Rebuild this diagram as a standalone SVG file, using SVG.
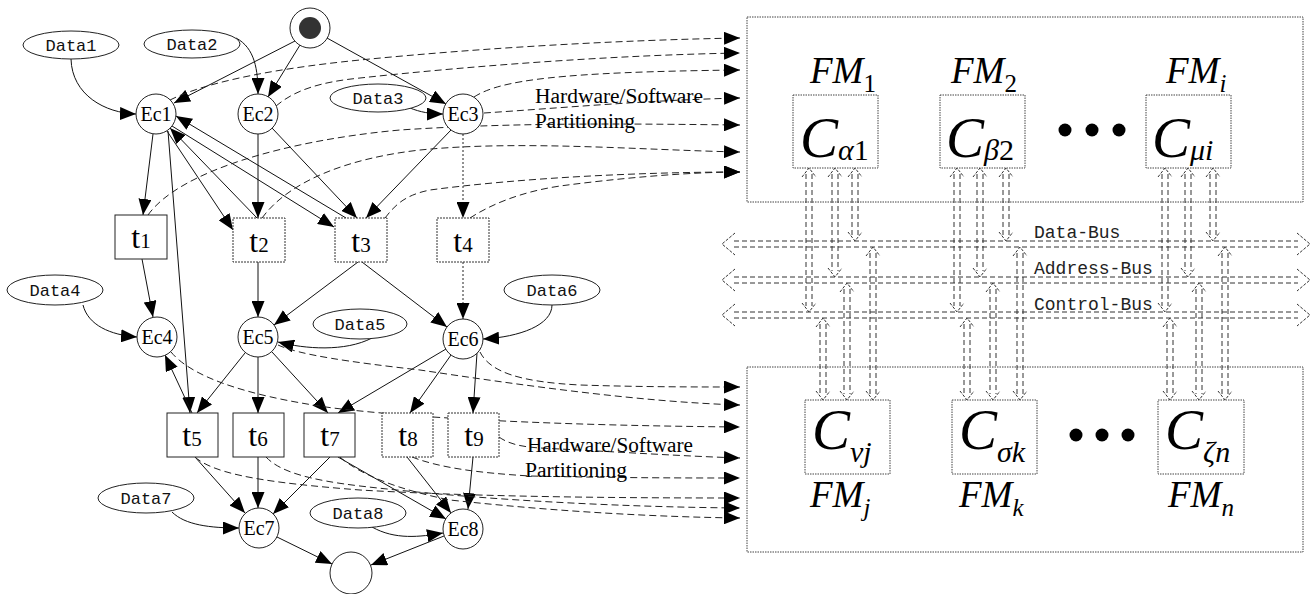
<svg xmlns="http://www.w3.org/2000/svg" width="1313" height="594" viewBox="0 0 1313 594">
<defs>
<marker id="ah" markerUnits="userSpaceOnUse" markerWidth="16" markerHeight="13" viewBox="0 0 16 13" refX="16" refY="6.5" orient="auto"><path d="M0,0 L16,6.5 L0,13 z" fill="#000"/></marker>
</defs>
<style>
.e{fill:none;stroke:#111;stroke-width:1;marker-end:url(#ah)}
.d{fill:none;stroke:#222;stroke-width:1;stroke-dasharray:7 4;marker-end:url(#ah)}
.dt{fill:none;stroke:#222;stroke-width:1;stroke-dasharray:2 2;marker-end:url(#ah)}
.n{fill:#fff;stroke:#222;stroke-width:1}
.nd{fill:#fff;stroke:#333;stroke-width:1;stroke-dasharray:2 1}
.ec{font-family:"Liberation Serif",serif;font-size:20px;text-anchor:middle;fill:#000}
.tl{font-family:"Liberation Serif",serif;text-anchor:middle;fill:#000}
.mono{font-family:"Liberation Mono",monospace;font-size:17px;text-anchor:middle;fill:#111}
.el{font-family:"Liberation Serif",serif;font-size:20px;fill:#000}
.bus{fill:none;stroke:#333;stroke-width:1;stroke-dasharray:5 3}
.chev{fill:none;stroke:#333;stroke-width:1;stroke-dasharray:3 1.5}
.box{fill:none;stroke:#444;stroke-width:1;stroke-dasharray:1.5 1}
.it{font-family:"Liberation Serif",serif;font-style:italic;fill:#000}
.up{font-style:normal}
.bl{font-family:"Liberation Mono",monospace;font-size:18px;fill:#222}
</style>
<rect width="1313" height="594" fill="#fff"/>

<g id="connectors">
<path class="e" d="M295,41 L174,103"/>
<path class="e" d="M300,45 L268,97"/>
<path class="e" d="M327,38 L446,104"/>
<path class="e" d="M71,59 C72,95 105,113 136,114"/>
<path class="e" d="M236,38 C255,48 258,70 258,94"/>
<path class="e" d="M410,108 C420,112 430,114 443,114"/>
<path class="e" d="M153,134 L143,215"/>
<path class="e" d="M167,131 L233,230"/>
<path class="e" d="M257,218 L170,128"/>
<path class="e" d="M172,126 L334,227"/>
<path class="e" d="M346,218 L176,116"/>
<path class="e" d="M168,131 L190,413"/>
<path class="e" d="M258,134 L258,218"/>
<path class="e" d="M272,128 L357,218"/>
<path class="e" d="M451,130 L366,218"/>
<path class="dt" d="M463,134 L463,218"/>
<path class="e" d="M142,259 L153,317"/>
<path class="e" d="M83,305 C88,325 110,335 137,337"/>
<path class="e" d="M258,262 L258,317"/>
<path class="e" d="M358,262 L274,325"/>
<path class="e" d="M362,262 L447,327"/>
<path class="dt" d="M463,262 L463,319"/>
<path class="e" d="M552,305 C552,325 520,337 483,339"/>
<path class="e" d="M372,338 C345,352 305,349 278,342"/>
<path class="e" d="M245,353 L197,413"/>
<path class="e" d="M258,357 L258,413"/>
<path class="e" d="M272,352 L328,413"/>
<path class="e" d="M446,349 L338,413"/>
<path class="e" d="M451,355 L410,413"/>
<path class="e" d="M477,353 L473,413"/>
<path class="e" d="M192,413 L165,355"/>
<path class="e" d="M172,512 C185,525 210,528 239,528"/>
<path class="e" d="M195,457 L245,513"/>
<path class="e" d="M258,457 L258,508"/>
<path class="e" d="M330,457 L273,514"/>
<path class="e" d="M338,457 L446,519"/>
<path class="e" d="M407,457 L451,513"/>
<path class="e" d="M473,457 L468,509"/>
<path class="e" d="M372,527 C395,540 420,537 443,533"/>
<path class="e" d="M277,537 L332,564"/>
<path class="e" d="M444,536 L371,565"/>
<path class="d" d="M170,100 C200,85 260,70 360,60 C480,48 620,40 740,38"/>
<path class="d" d="M276,106 C295,90 320,82 360,78 C480,65 620,55 740,53"/>
<path class="d" d="M474,97 C500,80 560,72 740,70"/>
<path class="d" d="M484,113 C560,108 650,100 740,98"/>
<path class="d" d="M148,215 C180,170 290,140 400,130 C520,122 640,124 740,125"/>
<path class="d" d="M262,218 C290,180 350,158 420,150 C520,140 640,150 740,152"/>
<path class="d" d="M385,218 C395,205 405,195 430,190 C520,178 640,172 740,172"/>
<path class="d" d="M470,218 C490,205 520,192 560,186 C620,178 690,172 740,172"/>
<path class="d" d="M480,352 C490,372 520,382 580,385 C640,387 700,387 740,387"/>
<path class="d" d="M278,345 C300,355 350,362 420,370 C520,385 640,402 740,405"/>
<path class="d" d="M171,352 C190,375 240,395 333,408 C450,422 620,426 740,427"/>
<path class="d" d="M499,437 C510,445 525,447 540,448 C620,452 680,456 740,458"/>
<path class="d" d="M412,457 C440,468 480,473 530,476 C620,478 690,478 740,478"/>
<path class="d" d="M195,457 C215,475 270,483 360,490 C480,497 620,498 740,498"/>
<path class="d" d="M266,457 C280,472 310,480 360,486 C480,500 620,507 740,508"/>
<path class="d" d="M340,457 C360,475 400,490 450,500 C560,512 660,517 740,518"/>
</g>

<g id="edge-labels">
<text class="el" x="535" y="103" textLength="168" lengthAdjust="spacingAndGlyphs">Hardware/Software</text>
<text class="el" x="535" y="128" textLength="100" lengthAdjust="spacingAndGlyphs">Partitioning</text>
<text class="el" x="527" y="452" textLength="166" lengthAdjust="spacingAndGlyphs">Hardware/Software</text>
<text class="el" x="525" y="477" textLength="102" lengthAdjust="spacingAndGlyphs">Partitioning</text>
</g>

<g id="start"><circle class="n" cx="310" cy="28" r="20"/><circle cx="310" cy="28" r="11" fill="#333"/></g>
<g id="end"><circle class="n" cx="351" cy="573" r="21"/></g>

<g id="Data1"><ellipse class="n" cx="71" cy="45" rx="48" ry="14"/><text class="mono" x="71" y="51">Data1</text></g>
<g id="Data2"><ellipse class="n" cx="192" cy="44" rx="48" ry="14"/><text class="mono" x="192" y="50">Data2</text></g>
<g id="Data3"><ellipse class="n" cx="378" cy="98" rx="48" ry="14"/><text class="mono" x="378" y="104">Data3</text></g>
<g id="Data4"><ellipse class="n" cx="55" cy="290" rx="48" ry="15"/><text class="mono" x="55" y="296">Data4</text></g>
<g id="Data5"><ellipse class="n" cx="360" cy="324" rx="47" ry="15"/><text class="mono" x="360" y="330">Data5</text></g>
<g id="Data6"><ellipse class="n" cx="552" cy="290" rx="48" ry="15"/><text class="mono" x="552" y="296">Data6</text></g>
<g id="Data7"><ellipse class="n" cx="146" cy="498" rx="48" ry="15"/><text class="mono" x="146" y="504">Data7</text></g>
<g id="Data8"><ellipse class="n" cx="358" cy="513" rx="48" ry="15"/><text class="mono" x="358" y="519">Data8</text></g>

<g id="Ec1"><circle class="n" cx="156" cy="114" r="20"/><text class="ec" x="156" y="121">Ec1</text></g>
<g id="Ec2"><circle class="n" cx="258" cy="114" r="20"/><text class="ec" x="258" y="121">Ec2</text></g>
<g id="Ec3"><circle class="n" cx="463" cy="114" r="20"/><text class="ec" x="463" y="121">Ec3</text></g>
<g id="Ec4"><circle class="n" cx="157" cy="337" r="20"/><text class="ec" x="157" y="344">Ec4</text></g>
<g id="Ec5"><circle class="n" cx="258" cy="337" r="20"/><text class="ec" x="258" y="344">Ec5</text></g>
<g id="Ec6"><circle class="n" cx="463" cy="339" r="20"/><text class="ec" x="463" y="346">Ec6</text></g>
<g id="Ec7"><circle class="n" cx="259" cy="528" r="20"/><text class="ec" x="259" y="535">Ec7</text></g>
<g id="Ec8"><circle class="n" cx="463" cy="529" r="20"/><text class="ec" x="463" y="536">Ec8</text></g>

<g id="t1"><rect class="n" x="115" y="215" width="52" height="44"/><text class="tl" x="141" y="248"><tspan font-size="32">t</tspan><tspan font-size="21">1</tspan></text></g>
<g id="t2"><rect class="nd" x="233" y="218" width="52" height="44"/><text class="tl" x="259" y="252"><tspan font-size="32">t</tspan><tspan font-size="21">2</tspan></text></g>
<g id="t3"><rect class="nd" x="335" y="218" width="52" height="44"/><text class="tl" x="361" y="252"><tspan font-size="32">t</tspan><tspan font-size="21">3</tspan></text></g>
<g id="t4"><rect class="nd" x="437" y="218" width="52" height="44"/><text class="tl" x="463" y="252"><tspan font-size="32">t</tspan><tspan font-size="21">4</tspan></text></g>
<g id="t5"><rect class="n" x="167" y="413" width="51" height="44"/><text class="tl" x="192" y="446"><tspan font-size="32">t</tspan><tspan font-size="21">5</tspan></text></g>
<g id="t6"><rect class="n" x="233" y="413" width="51" height="44"/><text class="tl" x="258" y="446"><tspan font-size="32">t</tspan><tspan font-size="21">6</tspan></text></g>
<g id="t7"><rect class="n" x="304" y="413" width="51" height="44"/><text class="tl" x="330" y="446"><tspan font-size="32">t</tspan><tspan font-size="21">7</tspan></text></g>
<g id="t8"><rect class="nd" x="382" y="413" width="51" height="44"/><text class="tl" x="408" y="446"><tspan font-size="32">t</tspan><tspan font-size="21">8</tspan></text></g>
<g id="t9"><rect class="nd" x="448" y="413" width="51" height="44"/><text class="tl" x="474" y="446"><tspan font-size="32">t</tspan><tspan font-size="21">9</tspan></text></g>

<g id="upper-box">
<rect class="box" x="747" y="17" width="556" height="185"/>
<text class="it" x="810" y="83" font-size="37">FM<tspan class="up" font-size="25" dy="9">1</tspan></text>
<text class="it" x="951" y="83" font-size="37">FM<tspan class="up" font-size="25" dy="9">2</tspan></text>
<text class="it" x="1166" y="83" font-size="37">FM<tspan font-size="25" dy="9">i</tspan></text>
<circle cx="1065" cy="130" r="6.5" fill="#000"/><circle cx="1092" cy="130" r="6.5" fill="#000"/><circle cx="1119" cy="130" r="6.5" fill="#000"/>
</g>
<g id="C-alpha1"><rect class="box" x="793" y="95" width="85" height="73"/><text class="it" x="800" y="157" font-size="57">C<tspan font-size="30" dy="3">α</tspan><tspan class="up" font-size="30">1</tspan></text></g>
<g id="C-beta2"><rect class="box" x="940" y="95" width="85" height="73"/><text class="it" x="946" y="157" font-size="57">C<tspan font-size="30" dy="3">β</tspan><tspan class="up" font-size="30">2</tspan></text></g>
<g id="C-mui"><rect class="box" x="1146" y="95" width="85" height="73"/><text class="it" x="1152" y="157" font-size="57">C<tspan font-size="30" dy="3">μi</tspan></text></g>

<g id="lower-box">
<rect class="box" x="747" y="367" width="556" height="185"/>
<text class="it" x="810" y="507" font-size="37">FM<tspan font-size="25" dy="9">j</tspan></text>
<text class="it" x="959" y="507" font-size="37">FM<tspan font-size="25" dy="9">k</tspan></text>
<text class="it" x="1168" y="507" font-size="37">FM<tspan font-size="25" dy="9">n</tspan></text>
<circle cx="1076" cy="435" r="6.5" fill="#000"/><circle cx="1102" cy="435" r="6.5" fill="#000"/><circle cx="1128" cy="435" r="6.5" fill="#000"/>
</g>
<g id="C-nuj"><rect class="box" x="805" y="400" width="85" height="74"/><text class="it" x="812" y="449" font-size="57">C<tspan font-size="30" dy="13">νj</tspan></text></g>
<g id="C-sigmak"><rect class="box" x="952" y="400" width="85" height="74"/><text class="it" x="959" y="449" font-size="57">C<tspan font-size="30" dy="13">σk</tspan></text></g>
<g id="C-zetan"><rect class="box" x="1158" y="400" width="86" height="74"/><text class="it" x="1165" y="449" font-size="57">C<tspan font-size="30" dy="13">ζn</tspan></text></g>

<g id="buses">
<path class="bus" d="M734,241 H1298 M734,247 H1298"/>
<path class="chev" d="M735,233 L722,244 L735,255 M1297,233 L1310,244 L1297,255"/>
<path class="bus" d="M734,277 H1298 M734,283 H1298"/>
<path class="chev" d="M735,269 L722,280 L735,291 M1297,269 L1310,280 L1297,291"/>
<path class="bus" d="M734,312 H1298 M734,318 H1298"/>
<path class="chev" d="M735,304 L722,315 L735,326 M1297,304 L1310,315 L1297,326"/>
<text class="bl" x="1034" y="238">Data-Bus</text>
<text class="bl" x="1034" y="274">Address-Bus</text>
<text class="bl" x="1034" y="310">Control-Bus</text>
</g>

<g id="bus-links">
<path class="bus" d="M806,174 V306 M812,174 V306 M832,174 V271 M838,174 V271 M852,174 V235 M858,174 V235"/>
<path class="chev" d="M802,177 L809,168 L816,177 M802,303 L809,312 L816,303 M828,177 L835,168 L842,177 M828,268 L835,277 L842,268 M848,177 L855,168 L862,177 M848,232 L855,241 L862,232"/>
<path class="bus" d="M954,174 V306 M960,174 V306 M977,174 V271 M983,174 V271 M1003,174 V235 M1009,174 V235"/>
<path class="chev" d="M950,177 L957,168 L964,177 M950,303 L957,312 L964,303 M973,177 L980,168 L987,177 M973,268 L980,277 L987,268 M999,177 L1006,168 L1013,177 M999,232 L1006,241 L1013,232"/>
<path class="bus" d="M1162,174 V306 M1168,174 V306 M1185,174 V271 M1191,174 V271 M1210,174 V235 M1216,174 V235"/>
<path class="chev" d="M1158,177 L1165,168 L1172,177 M1158,303 L1165,312 L1172,303 M1181,177 L1188,168 L1195,177 M1181,268 L1188,277 L1195,268 M1206,177 L1213,168 L1220,177 M1206,232 L1213,241 L1220,232"/>
<path class="bus" d="M820,324 V394 M826,324 V394 M844,289 V394 M850,289 V394 M870,253 V394 M876,253 V394"/>
<path class="chev" d="M816,327 L823,318 L830,327 M816,391 L823,400 L830,391 M840,292 L847,283 L854,292 M840,391 L847,400 L854,391 M866,256 L873,247 L880,256 M866,391 L873,400 L880,391"/>
<path class="bus" d="M964,324 V394 M970,324 V394 M990,289 V394 M996,289 V394 M1017,253 V394 M1023,253 V394"/>
<path class="chev" d="M960,327 L967,318 L974,327 M960,391 L967,400 L974,391 M986,292 L993,283 L1000,292 M986,391 L993,400 L1000,391 M1013,256 L1020,247 L1027,256 M1013,391 L1020,400 L1027,391"/>
<path class="bus" d="M1167,324 V394 M1173,324 V394 M1196,289 V394 M1202,289 V394 M1222,253 V394 M1228,253 V394"/>
<path class="chev" d="M1163,327 L1170,318 L1177,327 M1163,391 L1170,400 L1177,391 M1192,292 L1199,283 L1206,292 M1192,391 L1199,400 L1206,391 M1218,256 L1225,247 L1232,256 M1218,391 L1225,400 L1232,391"/>
</g>
</svg>
